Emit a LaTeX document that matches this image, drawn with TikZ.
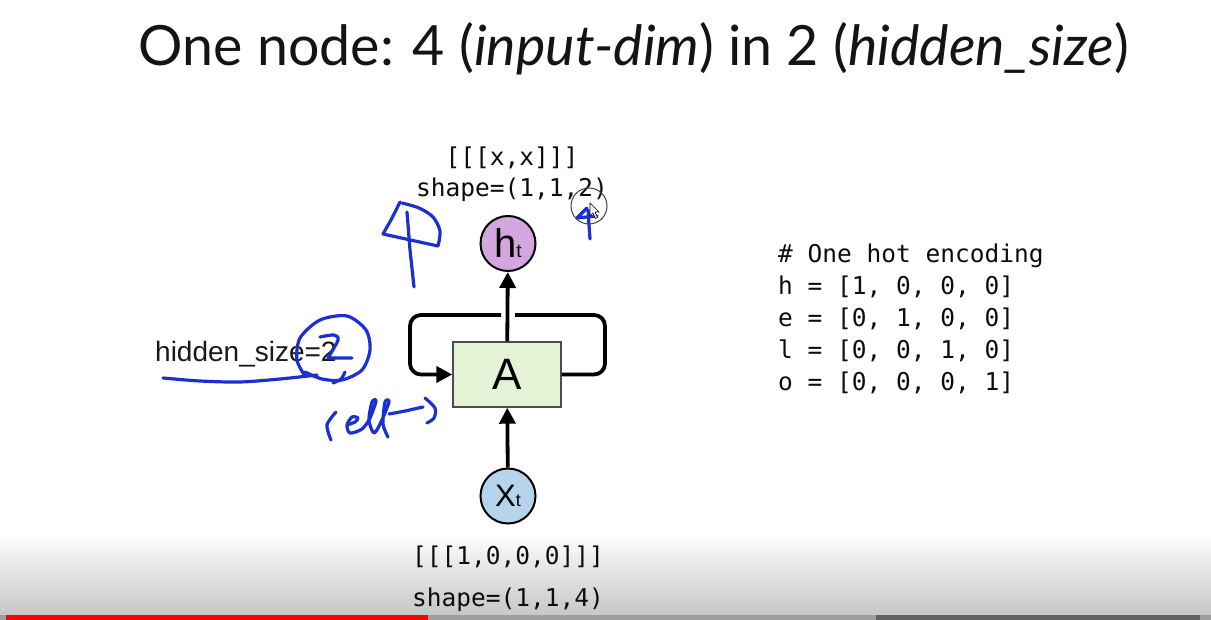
\documentclass[tikz,border=0pt]{standalone}
\usepackage{fontspec}
\setmainfont{Lato}
\newfontfamily\codefont{DejaVu Sans Mono}
\newfontfamily\labelfont{Liberation Sans}
\usetikzlibrary{arrows.meta}
\definecolor{cellgreen}{HTML}{E4F3D6}
\definecolor{hpurple}{HTML}{D4A6E0}
\definecolor{xblue}{HTML}{B5D3EA}
\definecolor{ink}{HTML}{1C2FD2}
\definecolor{barred}{HTML}{FF0000}
\begin{document}
\begin{tikzpicture}[x=1pt,y=-1pt,
  code/.style={font=\codefont\fontsize{24.5}{30}\selectfont, text=black!95, inner sep=0pt, anchor=base west},
  codec/.style={code, anchor=base},
  state/.style={circle, draw=black, line width=2pt, minimum size=55pt, inner sep=0pt, font=\labelfont},
  cellbox/.style={draw=black!70, line width=1.4pt, fill=cellgreen, minimum width=108pt, minimum height=65pt, inner sep=0pt, font=\labelfont\fontsize{44}{44}\selectfont},
  flow/.style={line width=3.8pt, -{Triangle[length=16pt,width=16pt]}},
  loopline/.style={line width=3.8pt, rounded corners=11pt},
  pen/.style={draw=ink, line width=3.2pt, line cap=round, line join=round}]
\useasboundingbox (0,0) rectangle (1211,620);
\fill[white] (0,0) rectangle (1211,620);

% player overlay at the bottom
\shade[top color=white, bottom color=black!22] (0,532) rectangle (1211,615);
\fill[black!38] (0,615) rectangle (1211,620);
\fill[black!62] (876,615) rectangle (1200,620);
\fill[barred] (6,615) rectangle (428,620);

% title
\node[anchor=base, inner sep=0pt, text=black!92, font=\fontsize{55.5}{60}\selectfont] (title) at (634,66)
  {One node: 4 (\textit{input-dim}) in 2 (\textit{hidden\_size})};

% cell and states
\node[cellbox] (A) at (507,374.5) {A};
\node[state, fill=hpurple] (h) at (508,243.5) {\fontsize{40}{40}\selectfont h\fontsize{19}{19}\selectfont t};
\node[state, fill=xblue] (x) at (508,496) {\fontsize{31}{31}\selectfont X\fontsize{18}{18}\selectfont t};

\draw[flow] (x) -- (A);
\draw[flow] (A) -- (h);

% recurrent loop, split where it crosses the output line
\coordinate (rtop) at (605,315);
\coordinate (ltop) at (410,315);
\coordinate (gapR) at (515,315);
\coordinate (gapL) at (501,315);
\draw[loopline] (A.east) -| (rtop) -- (gapR);
\draw[loopline, flow] (gapL) -- (ltop) |- (A.west);

% tensor labels
\node[codec] (hval) at (512,166) {[[[x,x]]]};
\node[codec] (hshape) at (512,197) {shape=(1,1,2)};
\node[codec] (xval) at (508,564) {[[[1,0,0,0]]]};
\node[codec] (xshape) at (508,606) {shape=(1,1,4)};

% one hot table
\node[code] (c0) at (778,263) {\# One hot encoding};
\node[code] (c1) at (778,295) {h = [1, 0, 0, 0]};
\node[code] (c2) at (778,327) {e = [0, 1, 0, 0]};
\node[code] (c3) at (778,359) {l = [0, 0, 1, 0]};
\node[code] (c4) at (778,391) {o = [0, 0, 0, 1]};

% hidden size label
\node[anchor=base west, inner sep=0pt, font=\labelfont\fontsize{28}{28}\selectfont, text=black!90] (hs) at (155,362) {hidden\_size=2};

% handwritten notes
\draw[pen] plot[smooth] coordinates {(400,202) (392,218) (383,234)} -- (438,246)
  plot[smooth] coordinates {(438,246) (440,231) (433,217) (419,208) (402,203)};
\draw[pen] (407,212) -- (410,250) -- (414,287);
\draw[pen] (587,208) -- (577,218) -- (597,216);
\draw[pen] plot[smooth] coordinates {(588,210) (589,225) (590,239)};

\draw[pen] plot[smooth] coordinates {(163,378) (200,381) (240,382) (280,379) (317,375)};
\draw[pen] plot[smooth] coordinates {(333,383) (341,379) (345,372)};
\draw[pen] plot[smooth] coordinates {(305,376) (297,360) (300,338) (320,320) (347,316) (366,330) (370,350) (362,370) (342,380) (322,379) (305,372)};
\draw[pen] plot[smooth] coordinates {(320,337) (334,335) (338,340) (328,358)} -- (352,358);

\draw[pen] plot[smooth] coordinates {(336,412) (327,425) (331,440)};
\draw[pen] plot[smooth] coordinates {(347,425) (355,422) (358,418) (352,417) (347,425) (350,433) (362,429) (370,418) (376,401) (372,402) (369,420) (374,433) (381,422) (389,402) (385,402) (383,424) (388,437)};
\draw[pen] plot[smooth] coordinates {(389,414) (405,411) (423,407)};
\draw[pen] plot[smooth] coordinates {(425,398) (435,408) (434,418) (427,423)};

% pointer
\draw[black!75, line width=1pt] (589,206) circle (18);
\filldraw[draw=black, fill=white, line width=0.6pt] (590,203) -- (590,216) -- (593,213) -- (595.5,218.5) -- (597.5,217.5) -- (595,212) -- (599,212) -- cycle;
\end{tikzpicture}
\end{document}
